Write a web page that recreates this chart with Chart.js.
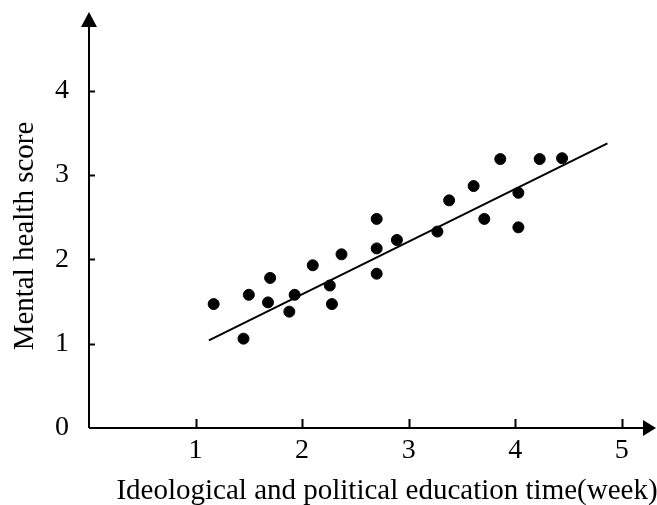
<!DOCTYPE html>
<html>
<head>
<meta charset="utf-8">
<script src="https://cdn.jsdelivr.net/npm/chart.js@4.4.0/dist/chart.umd.min.js"></script>
<style>
  html, body { margin: 0; padding: 0; background: #fff; }
  #wrap { width: 657px; height: 505px; }
</style>
</head>
<body>
<div id="wrap"><canvas id="myChart" width="657" height="505"></canvas></div>
<script>
// chart data
const xTicks = [1, 2, 3, 4, 5];
const yTicks = [0, 1, 2, 3, 4];
const eduTime = [1.17, 1.45, 1.50, 1.68, 1.70, 1.88, 1.93, 2.10, 2.26, 2.28, 2.37, 2.70,
  2.70, 2.70, 2.89, 3.27, 3.38, 3.61, 3.71, 3.86, 4.03, 4.03, 4.23, 4.44];
const healthScore = [1.47, 1.06, 1.58, 1.49, 1.78, 1.38, 1.58, 1.93, 1.69, 1.47, 2.06, 2.48,
  2.13, 1.83, 2.23, 2.33, 2.70, 2.87, 2.48, 3.19, 2.79, 2.38, 3.19, 3.20];
const fitX = [1.125, 4.866];
const fitY = [1.04, 3.377];
const xTitle = "Ideological and political education time(week)";
const yTitle = "Mental health score";

const serif = "'Liberation Serif', 'Times New Roman', serif";
Chart.defaults.font.family = serif;
Chart.defaults.font.size = 28;
Chart.defaults.color = "#000";

// axes with arrows, inner tick marks and titles
const axisArrows = {
  id: "axisArrows",
  afterDraw(chart) {
    const { ctx, chartArea: a, scales: { x, y } } = chart;
    const tipY = 12;
    const tipX = 656;
    ctx.save();
    ctx.strokeStyle = "#000";
    ctx.fillStyle = "#000";
    ctx.lineWidth = 2;

    // axis lines
    ctx.beginPath();
    ctx.moveTo(a.left, a.bottom);
    ctx.lineTo(tipX - 8, a.bottom);
    ctx.moveTo(a.left, a.bottom);
    ctx.lineTo(a.left, tipY + 8);
    ctx.stroke();

    // arrow heads
    ctx.beginPath();
    ctx.moveTo(a.left, tipY);
    ctx.lineTo(a.left - 8, tipY + 15);
    ctx.lineTo(a.left + 8, tipY + 15);
    ctx.closePath();
    ctx.fill();
    ctx.beginPath();
    ctx.moveTo(tipX, a.bottom);
    ctx.lineTo(tipX - 13, a.bottom - 8);
    ctx.lineTo(tipX - 13, a.bottom + 8);
    ctx.closePath();
    ctx.fill();

    // tick marks pointing inside
    ctx.beginPath();
    xTicks.forEach((v) => {
      const px = Math.round(x.getPixelForValue(v)) + 0.5;
      ctx.moveTo(px, a.bottom);
      ctx.lineTo(px, a.bottom - 9);
    });
    yTicks.slice(1).forEach((v) => {
      const py = Math.round(y.getPixelForValue(v)) + 0.5;
      ctx.moveTo(a.left, py);
      ctx.lineTo(a.left + 6, py);
    });
    ctx.stroke();

    // axis titles
    ctx.font = "29px " + serif;
    ctx.textAlign = "center";
    ctx.textBaseline = "alphabetic";
    ctx.fillText(xTitle, 387, 499);
    ctx.translate(33, 236);
    ctx.rotate(-Math.PI / 2);
    ctx.fillText(yTitle, 0, 0);
    ctx.restore();
  },
};

const ctx = document.getElementById("myChart");
new Chart(ctx, {
  type: "scatter",
  data: {
    datasets: [
      {
        label: "Samples",
        data: eduTime.map((v, i) => ({ x: v, y: healthScore[i] })),
        backgroundColor: "#000",
        borderColor: "#000",
        pointRadius: 5.5,
        pointHoverRadius: 5.5,
      },
      {
        type: "line",
        label: "Fit",
        data: fitX.map((v, i) => ({ x: v, y: fitY[i] })),
        borderColor: "#000",
        borderWidth: 2,
        pointRadius: 0,
        fill: false,
      },
    ],
  },
  options: {
    responsive: false,
    animation: false,
    devicePixelRatio: 1,
    layout: { padding: 0 },
    plugins: {
      legend: { display: false },
      tooltip: { enabled: false },
    },
    scales: {
      x: {
        type: "linear",
        min: 0,
        max: 5.27,
        grid: { display: false, drawTicks: false },
        border: { display: false },
        ticks: { padding: 6, font: { size: 28 } },
        afterBuildTicks: (scale) => {
          scale.ticks = xTicks.map((v) => ({ value: v }));
        },
        afterFit: (scale) => {
          scale.height = 77;
        },
      },
      y: {
        type: "linear",
        min: 0,
        max: 4.64,
        grid: { display: false, drawTicks: false },
        border: { display: false },
        ticks: { padding: 20, font: { size: 28 } },
        afterBuildTicks: (scale) => {
          scale.ticks = yTicks.map((v) => ({ value: v }));
        },
        afterFit: (scale) => {
          scale.width = 89;
        },
      },
    },
  },
  plugins: [axisArrows],
});
</script>
</body>
</html>
